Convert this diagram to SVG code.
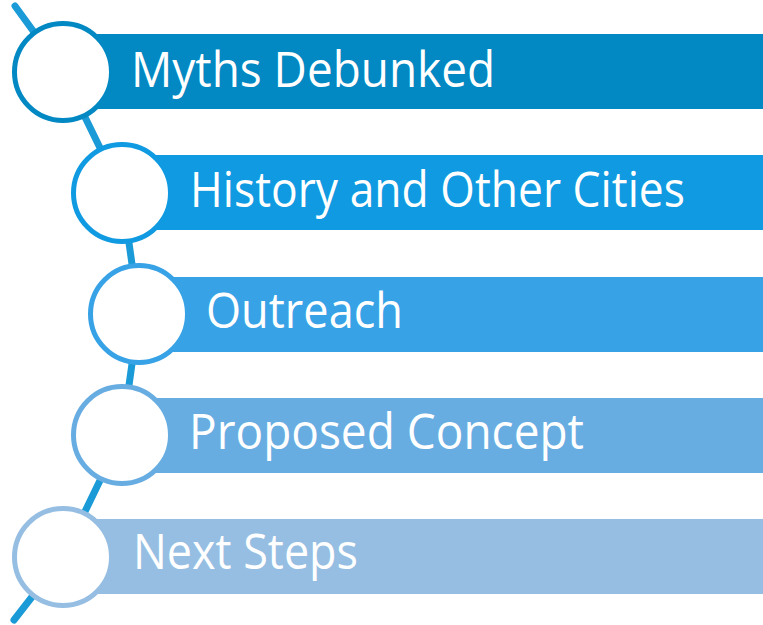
<svg xmlns="http://www.w3.org/2000/svg" width="763" height="625" viewBox="0 0 763 625">
  <style>
    .lbl { font-family: "Open Sans", "Noto Sans", "Liberation Sans", sans-serif; font-size: 49px; fill: #ffffff; }
    .ring { fill: #ffffff; stroke-width: 5; }
    .conn { fill: none; stroke: #1A9AD6; stroke-width: 7; stroke-linecap: round; stroke-linejoin: round; }
  </style>
  <rect width="763" height="625" fill="#ffffff"/>
  <g id="connectors">
    <polyline class="conn" points="15,6 63,72 122,193 139,314 122,435 63,557 14,620"/>
  </g>
  <g id="node1">
    <rect x="63" y="34" width="700" height="75" fill="#0288C2"/>
    <circle class="ring" cx="63" cy="72" r="48.5" stroke="#0288C2"/>
    <text class="lbl" x="131" y="87" textLength="364" lengthAdjust="spacingAndGlyphs">Myths Debunked</text>
  </g>
  <g id="node2">
    <rect x="122" y="155" width="641" height="75" fill="#0F9AE1"/>
    <circle class="ring" cx="122" cy="193" r="48.5" stroke="#0F9AE1"/>
    <text class="lbl" x="190" y="207" textLength="495" lengthAdjust="spacingAndGlyphs">History and Other Cities</text>
  </g>
  <g id="node3">
    <rect x="139" y="277" width="624" height="75" fill="#37A2E6"/>
    <circle class="ring" cx="139" cy="314" r="48.5" stroke="#37A2E6"/>
    <text class="lbl" x="206" y="328" textLength="197" lengthAdjust="spacingAndGlyphs">Outreach</text>
  </g>
  <g id="node4">
    <rect x="122" y="398" width="641" height="75" fill="#68ADE2"/>
    <circle class="ring" cx="122" cy="435" r="48.5" stroke="#68ADE2"/>
    <text class="lbl" x="189" y="449" textLength="395" lengthAdjust="spacingAndGlyphs">Proposed Concept</text>
  </g>
  <g id="node5">
    <rect x="63" y="519" width="700" height="75" fill="#95BEE2"/>
    <circle class="ring" cx="63" cy="557" r="48.5" stroke="#95BEE2"/>
    <text class="lbl" x="133" y="569" textLength="225" lengthAdjust="spacingAndGlyphs">Next Steps</text>
  </g>
</svg>
